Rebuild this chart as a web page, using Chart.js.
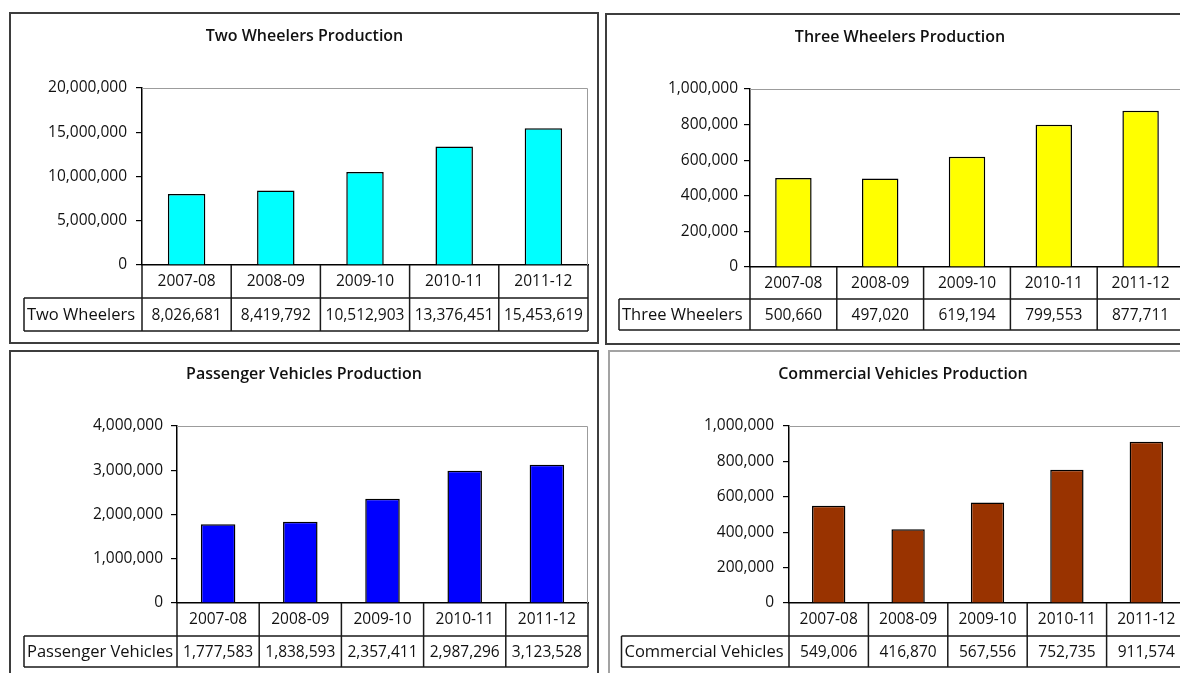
<!DOCTYPE html>
<html>
<head>
<meta charset="utf-8">
<title>Vehicle Production 2007-08 to 2011-12</title>
<script src="https://cdn.jsdelivr.net/npm/chart.js@4.4.1/dist/chart.umd.min.js"></script>
<style>
  html, body { margin: 0; padding: 0; background: #fff; width: 1180px; height: 673px; overflow: hidden; position: relative; }
  .frame { position: absolute; box-sizing: border-box; background: #fff; }
  .frame.dark { border: 2px solid #3d3d3d; }
  .frame.light { border: 2px solid #a3a3a3; }
  canvas { position: absolute; }
</style>
</head>
<body>
<div class="frame dark"  style="left:9px;   top:12px;  width:590px; height:332px;"></div>
<div class="frame dark"  style="left:605px; top:13px;  width:600px; height:332px;"></div>
<div class="frame dark"  style="left:9px;   top:350px; width:590px; height:340px;"></div>
<div class="frame light" style="left:608px; top:350px; width:600px; height:340px;"></div>

<canvas id="twoChart"        width="586" height="328" style="left:11px;  top:14px;"></canvas>
<canvas id="threeChart"      width="586" height="327" style="left:607px; top:15px;"></canvas>
<canvas id="passengerChart"  width="586" height="321" style="left:11px;  top:352px;"></canvas>
<canvas id="commercialChart" width="586" height="321" style="left:610px; top:352px;"></canvas>

<script>
// Financial years shown on every chart
const years = ['2007-08', '2008-09', '2009-10', '2010-11', '2011-12'];

// Production in units per year
const twoWheelers        = [8026681, 8419792, 10512903, 13376451, 15453619];
const threeWheelers      = [500660, 497020, 619194, 799553, 877711];
const passengerVehicles  = [1777583, 1838593, 2357411, 2987296, 3123528];
const commercialVehicles = [549006, 416870, 567556, 752735, 911574];

const seriesNames = ['Two Wheelers', 'Three Wheelers', 'Passenger Vehicles', 'Commercial Vehicles'];
const chartTitles = ['Two Wheelers Production', 'Three Wheelers Production',
                     'Passenger Vehicles Production', 'Commercial Vehicles Production'];

// Value axis range and tick spacing for each chart
const axisMax  = [20000000, 1000000, 4000000, 1000000];
const axisStep = [5000000, 200000, 1000000, 200000];

const FONT = '"Open Sans", Lato, sans-serif';
const INK = '#111';
const fmt = v => Number(v).toLocaleString('en-US');

// Draws the plot frame plus an Excel-style data table under the category axis
const dataTablePlugin = {
  id: 'dataTable',
  afterDraw(chart, args, opts) {
    const { ctx, chartArea } = chart;
    const x = chart.scales.x;
    const n = chart.data.labels.length;
    const half = (x.getPixelForValue(1) - x.getPixelForValue(0)) / 2;
    const edges = [];
    for (let i = 0; i < n; i++) edges.push(x.getPixelForValue(i) - half);
    edges.push(x.getPixelForValue(n - 1) + half);

    const axisY = chartArea.bottom;
    const headBottom = x.bottom;
    const rowBottom = headBottom + opts.rowHeight;
    const right = edges[n];

    ctx.save();
    // light frame along the top and right of the plot
    ctx.strokeStyle = '#9c9c9c';
    ctx.lineWidth = 1;
    ctx.beginPath();
    ctx.moveTo(chartArea.left, chartArea.top + 0.5);
    ctx.lineTo(right - 0.5, chartArea.top + 0.5);
    ctx.lineTo(right - 0.5, axisY);
    ctx.stroke();

    // table grid
    ctx.strokeStyle = '#1a1a1a';
    ctx.lineWidth = 1.5;
    ctx.beginPath();
    edges.forEach(ex => { ctx.moveTo(ex, axisY); ctx.lineTo(ex, rowBottom); });
    ctx.moveTo(opts.labelLeft, headBottom); ctx.lineTo(right, headBottom);
    ctx.moveTo(opts.labelLeft, rowBottom);  ctx.lineTo(right, rowBottom);
    ctx.moveTo(opts.labelLeft, headBottom); ctx.lineTo(opts.labelLeft, rowBottom);
    ctx.stroke();

    // series name and values
    ctx.fillStyle = INK;
    ctx.textBaseline = 'middle';
    const midY = (headBottom + rowBottom) / 2 + 1;
    ctx.font = '16.5px ' + FONT;
    ctx.textAlign = 'left';
    ctx.fillText(chart.data.datasets[0].label, opts.labelLeft + 3, midY);
    ctx.font = '15.5px ' + FONT;
    ctx.textAlign = 'center';
    chart.data.datasets[0].data.forEach((v, i) => {
      ctx.fillText(fmt(v), (edges[i] + edges[i + 1]) / 2, midY);
    });
    ctx.restore();
  }
};

// Per-chart placement inside its canvas
const panels = [
  { id: 'twoChart',        values: twoWheelers,        color: '#00ffff',
    pad: { left: 10, right: 9, bottom: 44 }, titlePad: { top: 13, bottom: 41.8 },
    yWidth: 121, tickPad: 9, headHeight: 33, rowHeight: 33, labelLeft: 13 },
  { id: 'threeChart',      values: threeWheelers,      color: '#ffff00',
    pad: { left: 9, right: 9, bottom: 43 },  titlePad: { top: 13, bottom: 41.8 },
    yWidth: 134, tickPad: 6,  headHeight: 32, rowHeight: 31, labelLeft: 12 },
  { id: 'passengerChart',  values: passengerVehicles,  color: '#0000ff',
    pad: { left: 9, right: 9, bottom: 37 },  titlePad: { top: 13, bottom: 41.8 },
    yWidth: 157, tickPad: 8,  headHeight: 33, rowHeight: 31, labelLeft: 13 },
  { id: 'commercialChart', values: commercialVehicles, color: '#993300',
    pad: { left: 10, right: 10, bottom: 37 }, titlePad: { top: 13, bottom: 41.8 },
    yWidth: 169, tickPad: 9, headHeight: 33, rowHeight: 31, labelLeft: 11.5 }
];

panels.forEach((p, k) => {
  new Chart(document.getElementById(p.id), {
    type: 'bar',
    data: {
      labels: years,
      datasets: [{
        label: seriesNames[k],
        data: p.values,
        backgroundColor: p.color,
        borderColor: '#000',
        borderWidth: 1.5,
        barPercentage: 0.42,
        categoryPercentage: 1
      }]
    },
    options: {
      responsive: false,
      animation: false,
      layout: { padding: { top: 0, left: p.pad.left, right: p.pad.right, bottom: p.pad.bottom } },
      plugins: {
        legend: { display: false },
        tooltip: { enabled: false },
        title: {
          display: true,
          text: chartTitles[k],
          color: INK,
          font: { family: FONT, size: 16, weight: '600' },
          padding: p.titlePad
        },
        dataTable: { rowHeight: p.rowHeight, labelLeft: p.labelLeft }
      },
      scales: {
        x: {
          grid: { display: false, drawTicks: false },
          border: { display: true, color: '#000', width: 1.5 },
          ticks: { color: INK, font: { family: FONT, size: 15.5 }, padding: 7, maxRotation: 0, autoSkip: false },
          afterFit: s => { s.height = p.headHeight; }
        },
        y: {
          min: 0,
          max: axisMax[k],
          grid: { drawOnChartArea: false, drawTicks: true, tickLength: 6, color: '#000', lineWidth: 1.2 },
          border: { display: true, color: '#000', width: 1.5 },
          ticks: { stepSize: axisStep[k], color: INK, font: { family: FONT, size: 15.5 },
                   padding: p.tickPad, callback: v => fmt(v) },
          afterFit: s => { s.width = p.yWidth; }
        }
      }
    },
    plugins: [dataTablePlugin]
  });
});
</script>
</body>
</html>
